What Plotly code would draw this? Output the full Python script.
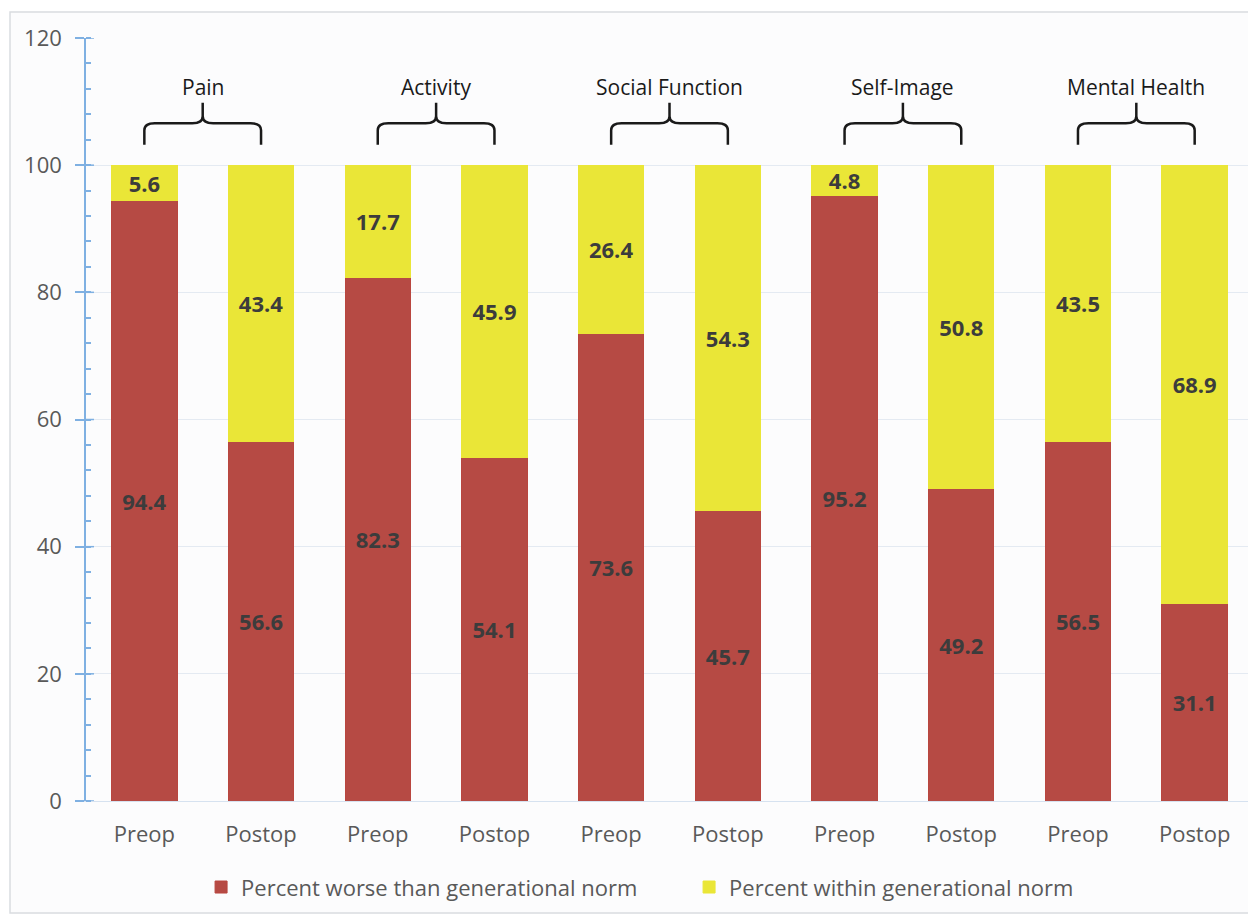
import plotly.graph_objects as go

# Outcome domains and time points
domains = ["Pain", "Activity", "Social Function", "Self-Image", "Mental Health"]
timepoints = ["Preop", "Postop"]

# Percent of patients per domain/time point (Preop, Postop pairs)
worse = [94.4, 56.6, 82.3, 54.1, 73.6, 45.7, 95.2, 49.2, 56.5, 31.1]
within = [5.6, 43.4, 17.7, 45.9, 26.4, 54.3, 4.8, 50.8, 43.5, 68.9]

y_ticks = [0, 20, 40, 60, 80, 100, 120]

RED = "#B64A44"
YELLOW = "#EAE637"
AXIS_BLUE = "#7FB0E2"
TEXT_GRAY = "#595959"
LABEL_DARK = "#3C3C3C"
FONT = "Open Sans"

x_pos = list(range(len(worse)))
x_labels = [timepoints[i % 2] for i in x_pos]

fig = go.Figure()

fig.add_trace(go.Bar(
    x=x_pos, y=worse, name="Percent worse than generational norm",
    marker=dict(color=RED, line=dict(color="#B9463F", width=1)),
    width=0.56,
    text=[f"{v:.1f}" for v in worse],
    textposition="inside", insidetextanchor="middle", textangle=0,
    constraintext="none",
    textfont=dict(family=FONT, size=22, color=LABEL_DARK, weight="bold"),
))
fig.add_trace(go.Bar(
    x=x_pos, y=within, name="Percent within generational norm",
    marker=dict(color=YELLOW, line=dict(color=YELLOW, width=1)),
    width=0.56,
    text=[f"{v:.1f}" for v in within],
    textposition="inside", insidetextanchor="middle", textangle=0,
    constraintext="none",
    textfont=dict(family=FONT, size=22, color=LABEL_DARK, weight="bold"),
))

shapes = []

# Chart frame behind everything
shapes.append(dict(
    type="rect", xref="paper", yref="paper", layer="below",
    x0=-0.0654, x1=1.02, y0=-0.1468, y1=1.034,
    line=dict(color="#D9DCE0", width=1.5), fillcolor="#FCFCFD",
))

# Inner half of the major y ticks (crossing the axis line)
for t in y_ticks:
    shapes.append(dict(
        type="line", xref="paper", yref="y", xsizemode="pixel", xanchor=0,
        x0=0, x1=8, y0=t, y1=t, line=dict(color=AXIS_BLUE, width=1.5),
    ))

# Curly brackets grouping each Preop/Postop pair
y_end, y_bar, y_tip, r = 103.2, 106.6, 109.8, 1.1
dx = 0.09
annotations = []
for g, name in enumerate(domains):
    xl, xr = 2 * g, 2 * g + 1
    xm = (xl + xr) / 2
    path = (
        f"M {xl},{y_end} L {xl},{y_bar - r} Q {xl},{y_bar} {xl + dx},{y_bar} "
        f"L {xm - dx},{y_bar} Q {xm},{y_bar} {xm},{y_bar + r} L {xm},{y_tip} "
        f"M {xm},{y_bar + r} Q {xm},{y_bar} {xm + dx},{y_bar} "
        f"L {xr - dx},{y_bar} Q {xr},{y_bar} {xr},{y_bar - r} L {xr},{y_end}"
    )
    shapes.append(dict(type="path", xref="x", yref="y", path=path,
                       line=dict(color="#1A1A1A", width=2.5)))
    annotations.append(dict(
        x=xm, y=112.3, xref="x", yref="y", text=name, showarrow=False,
        font=dict(family=FONT, size=21, color="#1A1A1A"),
    ))

fig.update_layout(
    width=1248, height=914,
    margin=dict(l=86, r=0, t=38, b=113),
    barmode="stack",
    paper_bgcolor="white",
    plot_bgcolor="rgba(0,0,0,0)",
    font=dict(family=FONT, color=TEXT_GRAY),
    shapes=shapes,
    annotations=annotations,
    showlegend=True,
    legend=dict(
        orientation="h", x=0.519, xanchor="center", y=-0.113, yanchor="middle",
        font=dict(family=FONT, size=22, color=TEXT_GRAY),
        bgcolor="rgba(0,0,0,0)", traceorder="normal",
        entrywidth=443, entrywidthmode="pixels",
    ),
    uniformtext=dict(mode=False),
)

fig.update_xaxes(
    tickmode="array", tickvals=x_pos, ticktext=x_labels,
    range=[-0.5, 9.457],
    showgrid=False, zeroline=False,
    showline=True, linecolor="#D6E2F0", linewidth=1,
    ticks="", ticklabelstandoff=14,
    tickfont=dict(family=FONT, size=22, color=TEXT_GRAY),
)

fig.update_yaxes(
    range=[0, 120], tickvals=y_ticks,
    showgrid=True, gridcolor="#E4EAF2", gridwidth=1,
    zeroline=False,
    showline=True, linecolor=AXIS_BLUE, linewidth=1.5,
    ticks="outside", ticklen=9, tickcolor=AXIS_BLUE, tickwidth=1.5,
    ticklabelstandoff=9,
    minor=dict(dtick=4, ticks="inside", ticklen=5, tickcolor=AXIS_BLUE,
               tickwidth=1.5, showgrid=False),
    tickfont=dict(family=FONT, size=22, color=TEXT_GRAY),
)

fig.write_html("out.html")
